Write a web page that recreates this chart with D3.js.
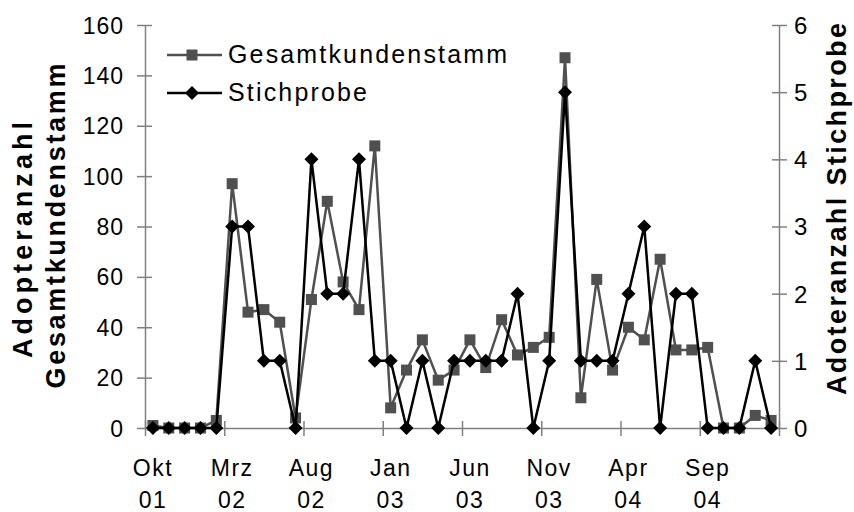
<!DOCTYPE html>
<html>
<head>
<meta charset="utf-8">
<script src="https://cdn.jsdelivr.net/npm/d3@7"></script>
<style>
  body { margin: 0; background: #fff; }
  text { font-family: "Liberation Sans", Arial, sans-serif; fill: #000; }
</style>
</head>
<body>
<script>
const months = [
  "Okt 01", "Nov 01", "Dez 01", "Jan 02", "Feb 02", "Mrz 02", "Apr 02", "Mai 02",
  "Jun 02", "Jul 02", "Aug 02", "Sep 02", "Okt 02", "Nov 02", "Dez 02", "Jan 03",
  "Feb 03", "Mrz 03", "Apr 03", "Mai 03", "Jun 03", "Jul 03", "Aug 03", "Sep 03",
  "Okt 03", "Nov 03", "Dez 03", "Jan 04", "Feb 04", "Mrz 04", "Apr 04", "Mai 04",
  "Jun 04", "Jul 04", "Aug 04", "Sep 04", "Okt 04", "Nov 04", "Dez 04", "Jan 05"
];

const gesamt = [
  1, 0, 0, 0, 3, 97, 46, 47, 42, 4, 51, 90, 58, 47, 112, 8, 23, 35, 19, 23,
  35, 24, 43, 29, 32, 36, 147, 12, 59, 23, 40, 35, 67, 31, 31, 32, 0, 0, 5, 3
];

const stichprobe = [
  0, 0, 0, 0, 0, 3, 3, 1, 1, 0, 4, 2, 2, 4, 1, 1, 0, 1, 0, 1,
  1, 1, 1, 2, 0, 1, 5, 1, 1, 1, 2, 3, 0, 2, 2, 0, 0, 0, 1, 0
];

const leftTicks = [0, 20, 40, 60, 80, 100, 120, 140, 160];
const rightTicks = [0, 1, 2, 3, 4, 5, 6];
const labelEvery = 5;

const width = 854;
const height = 512;
const grayColor = "#505050";
const axisColor = "#808080";

const svg = d3.select("body").append("svg")
  .attr("width", width)
  .attr("height", height);

const x = d3.scaleBand()
  .domain(d3.range(months.length))
  .range([145, 779])
  .padding(0);

const xEdge = d3.scaleLinear()
  .domain([0, months.length])
  .range([145, 779]);

const yLeft = d3.scaleLinear().domain([0, 160]).range([428, 25]);
const yRight = d3.scaleLinear().domain([0, 6]).range([428, 25]);

const cx = (i) => x(i) + x.bandwidth() / 2;

// Axes

const leftAxis = svg.append("g")
  .attr("transform", "translate(145,0)")
  .call(d3.axisLeft(yLeft).tickValues(leftTicks).tickSize(0).tickPadding(21));
leftAxis.select(".domain").attr("stroke", axisColor).attr("stroke-width", 1.5);
leftAxis.selectAll(".tick line").attr("x1", -8).attr("x2", 7).attr("stroke", axisColor).attr("stroke-width", 1.5);
leftAxis.selectAll(".tick text")
  .style("font-size", "23px")
  .style("letter-spacing", "1px")
  .attr("dy", "0.35em");

const rightAxis = svg.append("g")
  .attr("transform", "translate(779,0)")
  .call(d3.axisRight(yRight)
    .tickValues(rightTicks)
    .tickFormat(d3.format("d"))
    .tickSize(0)
    .tickPadding(15));
rightAxis.select(".domain").attr("stroke", axisColor).attr("stroke-width", 1.5);
rightAxis.selectAll(".tick line").attr("x1", -7).attr("x2", 8).attr("stroke", axisColor).attr("stroke-width", 1.5);
rightAxis.selectAll(".tick text")
  .style("font-size", "24px")
  .attr("dy", "0.35em");

const bottomAxis = svg.append("g")
  .attr("transform", "translate(0,428)")
  .call(d3.axisBottom(xEdge)
    .tickValues(d3.range(0, months.length + 1, labelEvery))
    .tickFormat("")
    .tickSize(0));
bottomAxis.select(".domain").attr("stroke", axisColor).attr("stroke-width", 1.5);
bottomAxis.selectAll(".tick line").attr("y1", -7).attr("y2", 8).attr("stroke", axisColor).attr("stroke-width", 1.5);

const xLabels = svg.append("g")
  .selectAll("text")
  .data(months.map((m, i) => ({ m, i })).filter((d) => d.i % labelEvery === 0))
  .enter()
  .append("text")
  .attr("text-anchor", "middle")
  .style("font-size", "23px")
  .style("letter-spacing", "1.5px");

xLabels.append("tspan")
  .attr("x", (d) => cx(d.i))
  .attr("y", 476)
  .text((d) => d.m.split(" ")[0]);

xLabels.append("tspan")
  .attr("x", (d) => cx(d.i))
  .attr("y", 508)
  .text((d) => d.m.split(" ")[1]);

// Axis titles

svg.append("text")
  .attr("transform", "translate(32,240) rotate(-90)")
  .attr("text-anchor", "middle")
  .attr("textLength", 236)
  .style("font-size", "27px")
  .style("font-weight", "bold")
  .text("Adopteranzahl");

svg.append("text")
  .attr("transform", "translate(65,226) rotate(-90)")
  .attr("text-anchor", "middle")
  .attr("textLength", 325)
  .style("font-size", "27px")
  .style("font-weight", "bold")
  .text("Gesamtkundenstamm");

svg.append("text")
  .attr("transform", "translate(846,209) rotate(-90)")
  .attr("text-anchor", "middle")
  .attr("textLength", 372)
  .style("font-size", "27px")
  .style("font-weight", "bold")
  .text("Adoteranzahl Stichprobe");

// Series

const diamond = "M0,-7L7,0L0,7L-7,0Z";

const lineLeft = d3.line().x((d, i) => cx(i)).y((d) => yLeft(d));
const lineRight = d3.line().x((d, i) => cx(i)).y((d) => yRight(d));

svg.append("path")
  .datum(gesamt)
  .attr("d", lineLeft)
  .attr("fill", "none")
  .attr("stroke", grayColor)
  .attr("stroke-width", 2.5);

svg.append("g")
  .selectAll("rect")
  .data(gesamt)
  .enter()
  .append("rect")
  .attr("x", (d, i) => cx(i) - 5.5)
  .attr("y", (d) => yLeft(d) - 5.5)
  .attr("width", 11)
  .attr("height", 11)
  .attr("fill", grayColor);

svg.append("path")
  .datum(stichprobe)
  .attr("d", lineRight)
  .attr("fill", "none")
  .attr("stroke", "#000")
  .attr("stroke-width", 2.5);

svg.append("g")
  .selectAll("path")
  .data(stichprobe)
  .enter()
  .append("path")
  .attr("d", diamond)
  .attr("transform", (d, i) => `translate(${cx(i)},${yRight(d)})`)
  .attr("fill", "#000");

// Legend

const legend = svg.append("g").attr("transform", "translate(167,0)");

const legendItems = [
  { name: "Gesamtkundenstamm", color: grayColor, marker: "square", y: 55, len: 279 },
  { name: "Stichprobe", color: "#000", marker: "diamond", y: 93, len: 139 },
];

legendItems.forEach((item) => {
  legend.append("line")
    .attr("x1", 0).attr("x2", 55)
    .attr("y1", item.y).attr("y2", item.y)
    .attr("stroke", item.color)
    .attr("stroke-width", 2.5);

  if (item.marker === "square") {
    legend.append("rect")
      .attr("x", 25 - 5.5).attr("y", item.y - 5.5)
      .attr("width", 11).attr("height", 11)
      .attr("fill", item.color);
  } else {
    legend.append("path")
      .attr("d", diamond)
      .attr("transform", `translate(25,${item.y})`)
      .attr("fill", item.color);
  }

  legend.append("text")
    .attr("x", 61)
    .attr("y", item.y + 8)
    .attr("textLength", item.len)
    .style("font-size", "25px")
    .text(item.name);
});
</script>
</body>
</html>
